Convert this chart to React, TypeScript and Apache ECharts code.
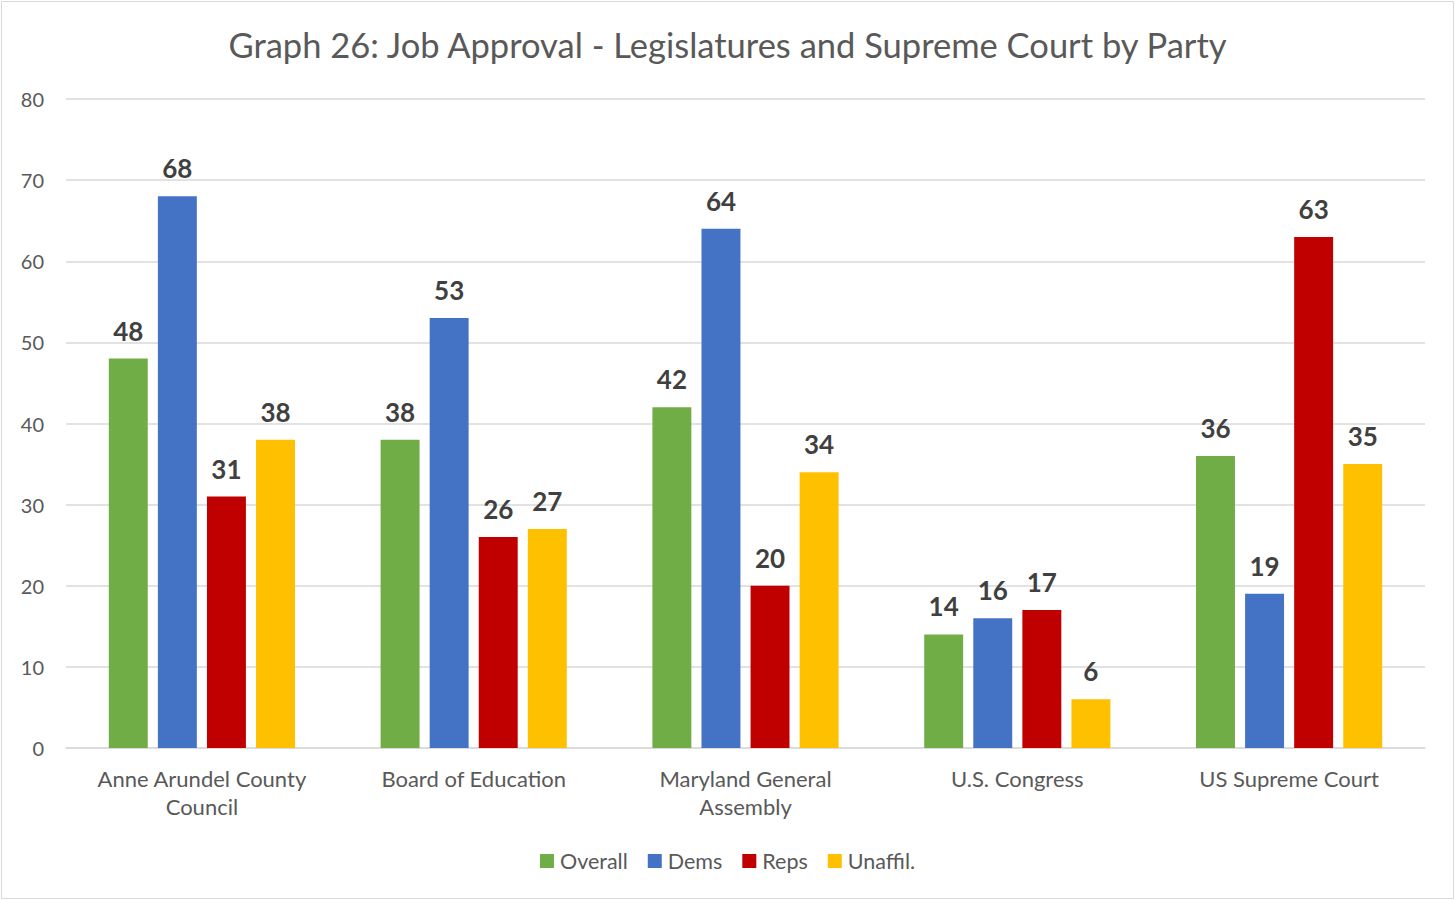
import React, { useEffect, useRef } from "react";
import * as echarts from "echarts";

const categories = [
  "Anne Arundel County\nCouncil",
  "Board of Education",
  "Maryland General\nAssembly",
  "U.S. Congress",
  "US Supreme Court",
];
const overall = [48, 38, 42, 14, 36];
const dems = [68, 53, 64, 16, 19];
const reps = [31, 26, 20, 17, 63];
const unaffil = [38, 27, 34, 6, 35];
const seriesNames = ["Overall", "Dems", "Reps", "Unaffil."];
const colors = ["#70AD47", "#4472C4", "#C00000", "#FFC000"];

const FONT = "Lato";

export default function App() {
  const ref = useRef<HTMLDivElement>(null);
  useEffect(() => {
    const chart = echarts.init(ref.current!, null, { renderer: "svg" });
    const data = [overall, dems, reps, unaffil];
    chart.setOption({
      animation: false,
      textStyle: { fontFamily: FONT },
      title: {
        text: "Graph 26: Job Approval - Legislatures and Supreme Court by Party",
        left: "center",
        top: 22,
        textStyle: { fontFamily: FONT, fontSize: 34.5, fontWeight: "normal", color: "#595959" },
      },
      graphic: [
        {
          type: "rect",
          shape: { x: 1.5, y: 1.5, width: 1452, height: 897 },
          style: { fill: "none", stroke: "#D9D9D9", lineWidth: 1 },
          silent: true,
        },
      ],
      legend: {
        bottom: 23,
        left: "center",
        itemWidth: 14,
        itemHeight: 14,
        itemGap: 20,
        icon: "rect",
        textStyle: { fontFamily: FONT, fontSize: 21.5, color: "#595959", padding: [0, 0, 0, 1] },
        data: seriesNames,
      },
      grid: { left: 66, right: 30, top: 99, bottom: 152 },
      xAxis: {
        type: "category",
        data: categories,
        axisLine: { lineStyle: { color: "#D9D9D9", width: 1.5 } },
        axisTick: { show: false },
        axisLabel: {
          fontFamily: FONT,
          fontSize: 22,
          color: "#595959",
          lineHeight: 28,
          margin: 16,
          interval: 0,
        },
      },
      yAxis: {
        type: "value",
        min: 0,
        max: 80,
        interval: 10,
        axisLine: { show: false },
        axisTick: { show: false },
        splitLine: { lineStyle: { color: "#D9D9D9", width: 1.5 } },
        axisLabel: { fontFamily: FONT, fontSize: 20, color: "#595959", margin: 22 },
      },
      series: seriesNames.map((name, i) => ({
        name,
        type: "bar",
        data: data[i],
        itemStyle: { color: colors[i] },
        barGap: "26%",
        barCategoryGap: "31.5%",
        label: {
          show: true,
          position: "top",
          distance: 15,
          fontFamily: FONT,
          fontSize: 26,
          fontWeight: "bold",
          color: "#404040",
        },
      })),
    });
    return () => chart.dispose();
  }, []);
  return (
    <div
      ref={ref}
      style={{ position: "fixed", left: 0, top: 0, width: 1455, height: 900, background: "#fff" }}
    />
  );
}
